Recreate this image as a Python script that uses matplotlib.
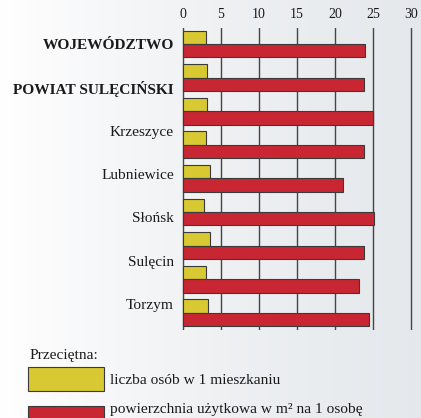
import numpy as np
import matplotlib.pyplot as plt
from matplotlib.colors import LinearSegmentedColormap
from matplotlib.patches import Rectangle

plt.rcParams['font.family'] = ['Liberation Serif', 'DejaVu Serif']

# labels on the left (7) and bar pairs (9), as in the source picture
labels = ['WOJEWÓDZTWO', 'POWIAT SULĘCIŃSKI', 'Krzeszyce', 'Lubniewice',
          'Słońsk', 'Sulęcin', 'Torzym']
bold_labels = ['WOJEWÓDZTWO', 'POWIAT SULĘCIŃSKI']
osoby = [3.0, 3.1, 3.1, 3.0, 3.6, 2.8, 3.6, 3.05, 3.3]
powierzchnia = [24.0, 23.8, 25.0, 23.8, 21.1, 25.1, 23.8, 23.1, 24.5]
x_ticks = [0, 5, 10, 15, 20, 25, 30]

legend_title = 'Przeciętna:'
legend_labels = ['liczba osób w 1 mieszkaniu',
                 'powierzchnia użytkowa w m² na 1 osobę']

c_yellow = '#d8c832'
c_red = '#c82632'
c_edge = '#3a3a3a'
c_text = '#1a1a1a'

W, H = 421, 418
fig = plt.figure(figsize=(W / 100, H / 100), dpi=100)

# background gradient
bg = fig.add_axes([0, 0, 1, 1], zorder=-5)
grad_cmap = LinearSegmentedColormap.from_list('bg', [(0, '#ffffff'), (0.12, '#fbfbfc'),
                                                     (0.5, '#eff1f3'), (1, '#e4e8ec')])
bg.imshow(np.linspace(0, 1, 256)[None, :], cmap=grad_cmap, aspect='auto', extent=[0, 1, 0, 1])
bg.axis('off')

px = 7.6  # pixels per unit
x0, x1 = -0.2, 30.4
left = (183 + x0 * px) / W
ax = fig.add_axes([left, (H - 330) / H, (x1 - x0) * px / W, (330 - 28) / H])
ax.set_facecolor('none')

idx = np.arange(len(osoby))
ax.barh(idx - 0.2, osoby, height=0.4, color=c_yellow, edgecolor=c_edge, linewidth=0.8, zorder=3)
ax.barh(idx + 0.2, powierzchnia, height=0.4, color=c_red, edgecolor=c_edge, linewidth=0.8, zorder=3)

ax.set_xlim(x0, x1)
ax.set_ylim(8.51, -0.476)
ax.set_xticks(x_ticks)
ax.xaxis.tick_top()
ax.grid(axis='x', color='#454545', linewidth=1.0, zorder=0)
ax.set_axisbelow(True)
for s in ax.spines.values():
    s.set_visible(False)
ax.tick_params(axis='x', length=0, pad=5, labelsize=10, colors=c_text)

ax.set_yticks(np.arange(len(labels)) * 1.29)
ax.set_yticklabels(labels)
ax.tick_params(axis='y', length=0, pad=5.5, labelsize=11.1, colors=c_text)
for t in ax.get_yticklabels():
    if t.get_text() in bold_labels:
        t.set_fontweight('bold')

# legend
def fy(y):
    return 1 - y / H

fig.text(30 / W, fy(355), legend_title, fontsize=11.1, color=c_text, va='center')
fig.add_artist(Rectangle((28 / W, fy(391)), 76 / W, 24 / H, transform=fig.transFigure,
                         facecolor=c_yellow, edgecolor=c_edge, linewidth=0.8))
fig.add_artist(Rectangle((28 / W, fy(430)), 76 / W, 24 / H, transform=fig.transFigure,
                         facecolor=c_red, edgecolor=c_edge, linewidth=0.8))
fig.text(110 / W, fy(380), legend_labels[0], fontsize=11.1, color=c_text, va='center')
fig.text(110 / W, fy(410), legend_labels[1], fontsize=11.1, color=c_text, va='center')

fig.savefig('out.png', dpi=100)
